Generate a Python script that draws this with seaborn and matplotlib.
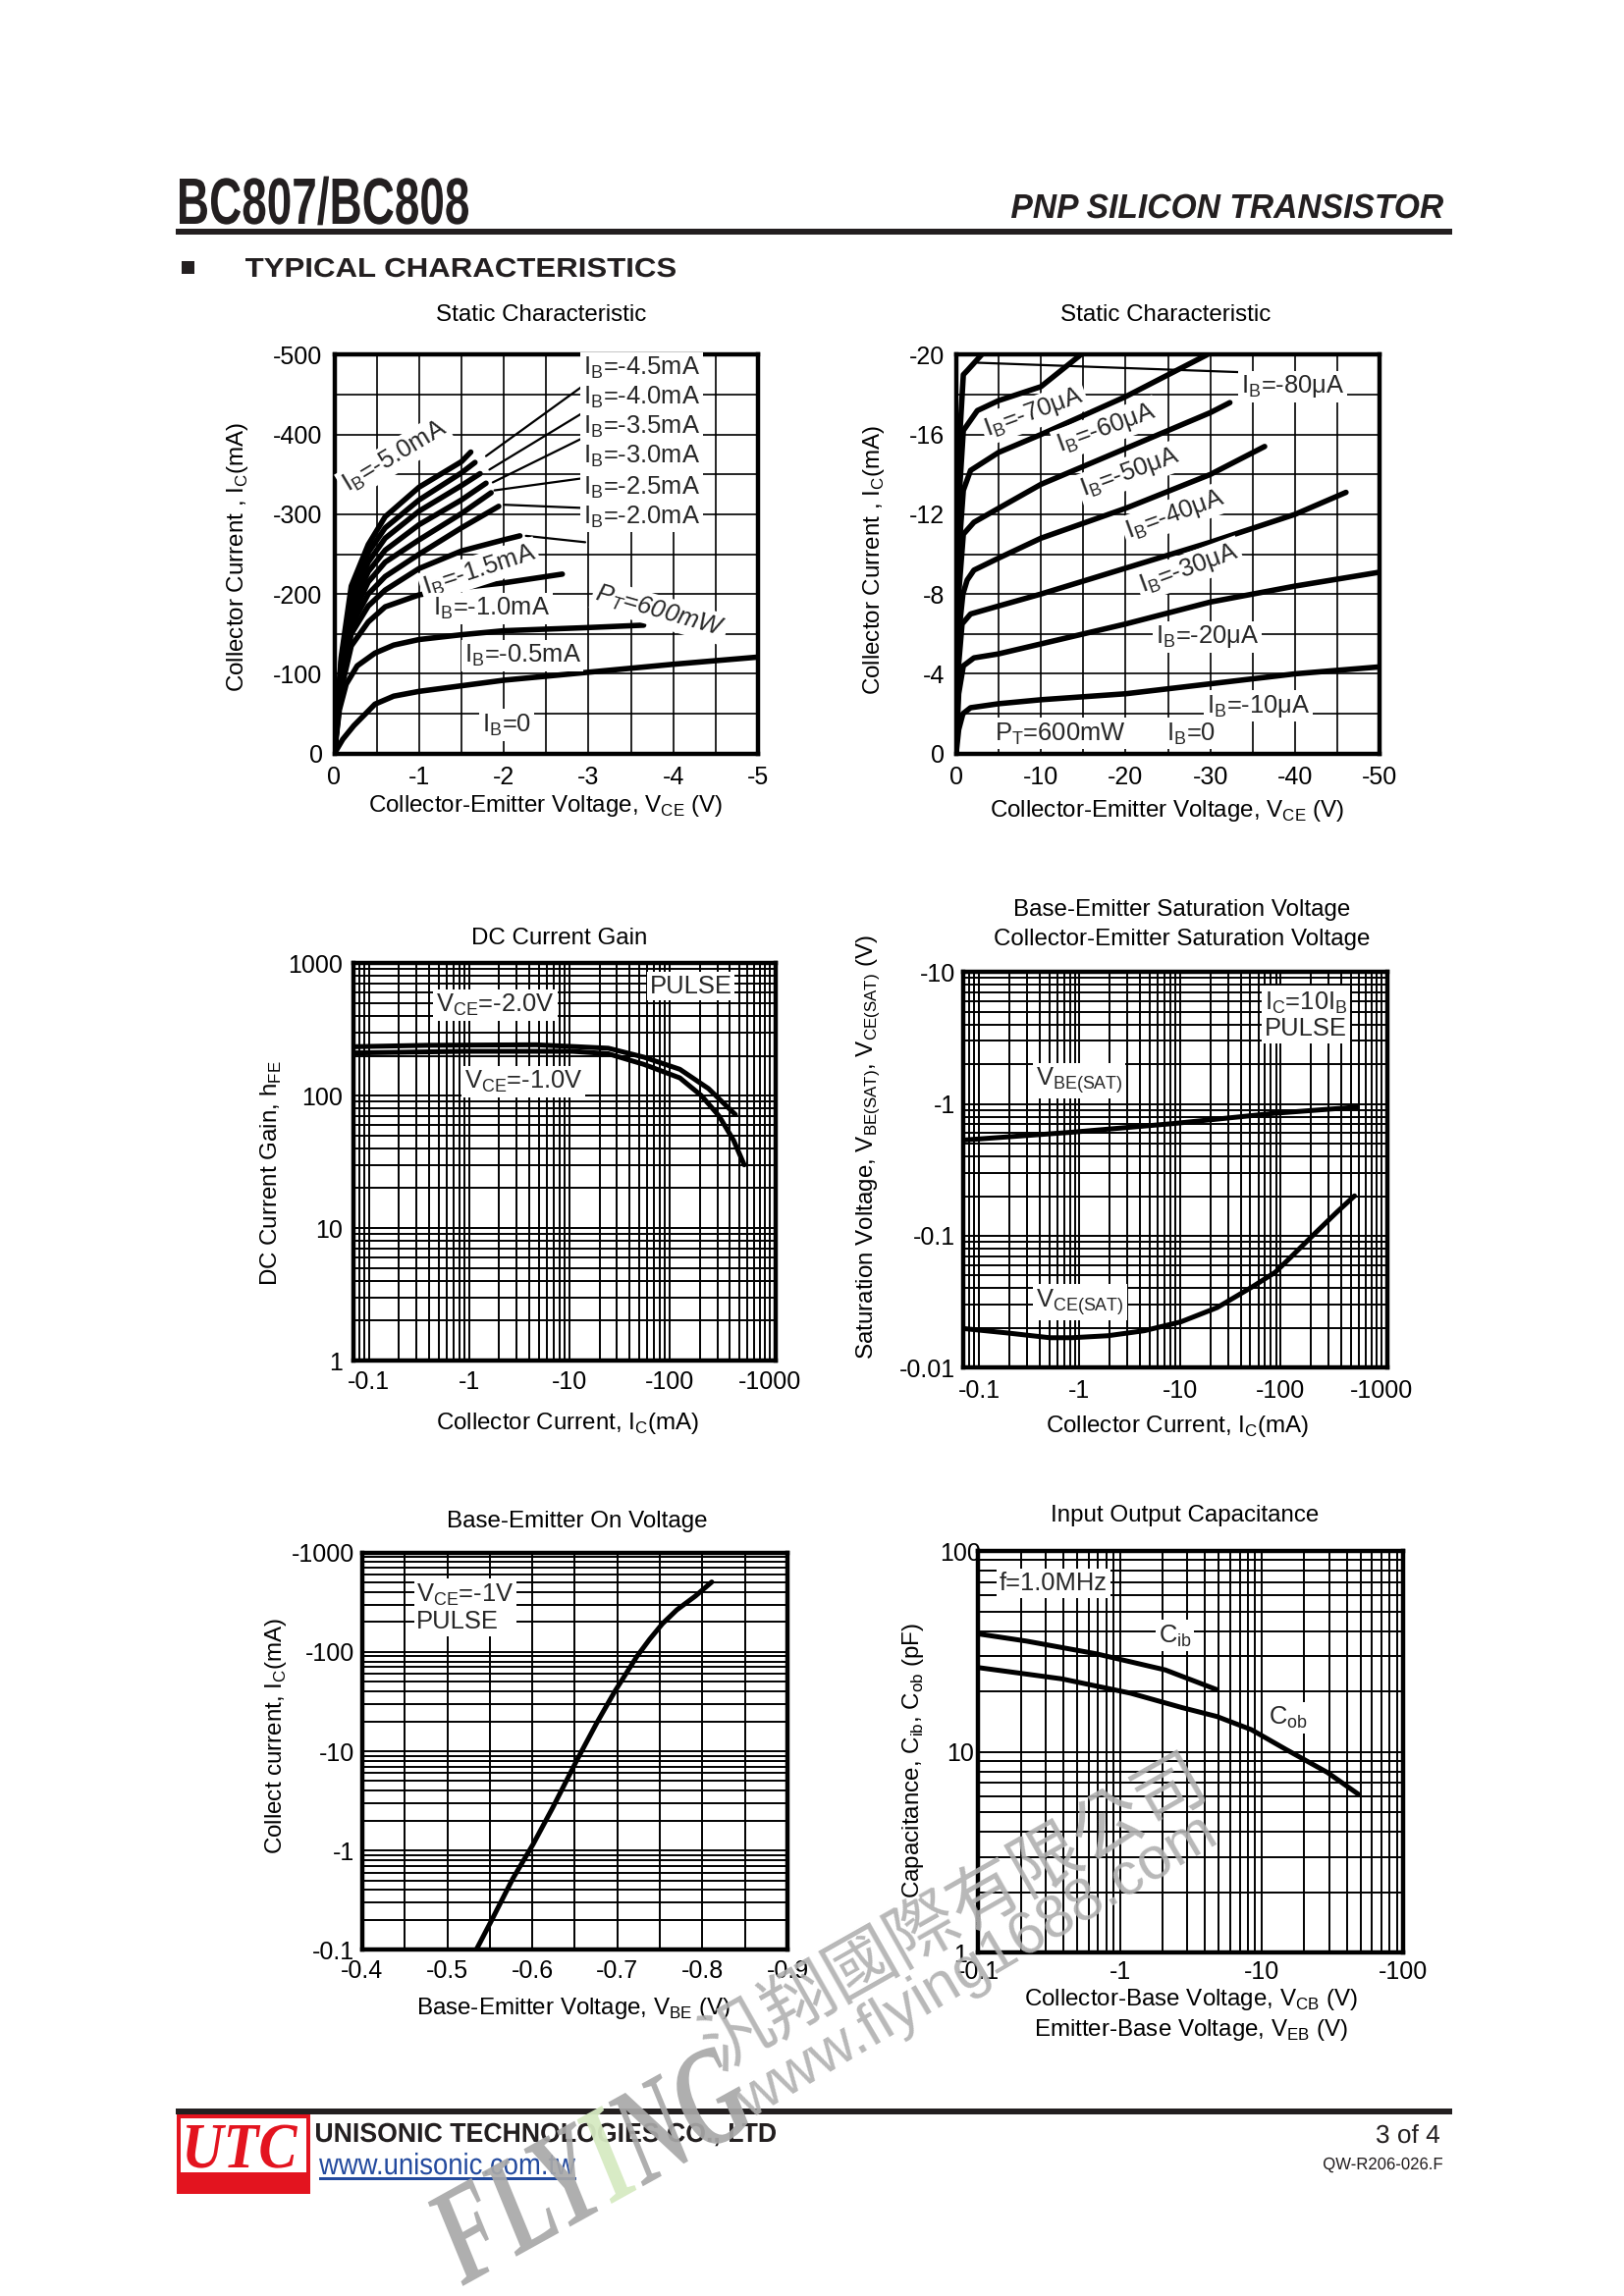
import matplotlib
matplotlib.use('Agg')
import matplotlib.pyplot as plt
import seaborn as sns
from matplotlib.ticker import MultipleLocator, FuncFormatter, LogLocator, NullFormatter
from matplotlib.patches import Rectangle, PathPatch
from matplotlib.textpath import TextPath
from matplotlib.path import Path
from matplotlib.font_manager import FontProperties
from matplotlib.transforms import Affine2D, IdentityTransform

# page size in pixels (A4 at 200 dpi)
W, H = 1654, 2339

# ---- values, stored as magnitudes (the page shows them negative) ----

# Static Characteristic, VCE 0..-5 V, IC 0..-500 mA
vce_low = [
    [0, 0.1, 0.23, 0.48, 0.7, 1.0, 1.5, 2.0, 3.0, 4.0, 5.0],
    [0, 0.06, 0.14, 0.27, 0.48, 0.7, 1.0, 1.5, 2.0, 3.0, 3.65],
    [0, 0.08, 0.2, 0.4, 0.6, 1.0, 1.5, 2.0, 2.69],
    [0, 0.08, 0.2, 0.4, 0.6, 1.0, 1.5, 2.0, 2.19],
    [0, 0.08, 0.2, 0.4, 0.6, 1.0, 1.5, 1.94],
    [0, 0.08, 0.2, 0.4, 0.6, 1.0, 1.5, 1.85],
    [0, 0.08, 0.2, 0.4, 0.6, 1.0, 1.5, 1.79],
    [0, 0.08, 0.2, 0.4, 0.6, 1.0, 1.5, 1.72],
    [0, 0.08, 0.2, 0.4, 0.6, 1.0, 1.5, 1.66],
    [0, 0.08, 0.2, 0.4, 0.6, 1.0, 1.5, 1.61],
]
ic_low = [
    [0, 18, 35, 62, 72, 78, 85, 92, 102, 112, 121],
    [0, 55, 87, 110, 126, 136, 143, 149, 154, 158, 161],
    [0, 80, 135, 165, 184, 199, 208, 214, 225],
    [0, 90, 150, 185, 205, 232, 254, 268, 273],
    [0, 95, 160, 200, 222, 250, 283, 310],
    [0, 100, 170, 215, 240, 268, 301, 327],
    [0, 105, 180, 228, 255, 287, 318, 339],
    [0, 110, 190, 240, 270, 304, 336, 351],
    [0, 115, 200, 252, 283, 318, 352, 365],
    [0, 120, 210, 262, 297, 334, 366, 378],
]
ib_low_right = ['-4.5', '-4.0', '-3.5', '-3.0', '-2.5', '-2.0']

# Static Characteristic, VCE 0..-50 V, IC 0..-20 mA
vce_high = [
    [0, 0.3, 0.8, 1.7, 5, 10, 20, 30, 40, 50],
    [0, 0.3, 0.85, 2.1, 5, 10, 20, 30, 40, 50],
    [0, 0.3, 0.7, 1.7, 5, 10, 20, 30, 40, 46],
    [0, 0.3, 0.8, 1.3, 2.1, 5, 10, 20, 30, 36.4],
    [0, 0.3, 0.85, 2.1, 5, 10, 20, 30, 32.3],
    [0, 0.3, 0.85, 1.7, 5, 10, 20, 29.6],
    [0, 0.3, 0.85, 2.5, 5, 10, 14.7],
    [0, 0.3, 0.85, 1.3, 3.0],
]
ic_high = [
    [0, 1.2, 2.0, 2.3, 2.5, 2.7, 3.0, 3.5, 4.0, 4.35],
    [0, 3.0, 4.4, 4.8, 5.0, 5.5, 6.5, 7.6, 8.4, 9.1],
    [0, 4.5, 6.5, 7.0, 7.4, 8.0, 9.3, 10.6, 12.0, 13.1],
    [0, 6.0, 8.0, 8.7, 9.2, 9.8, 10.8, 12.3, 14.0, 15.4],
    [0, 8.0, 11.0, 11.6, 12.3, 13.5, 15.3, 17.1, 17.6],
    [0, 10.0, 13.2, 14.2, 15.1, 16.0, 17.9, 20.0],
    [0, 12.5, 16.2, 17.2, 17.7, 18.4, 20.0],
    [0, 15.0, 19.0, 19.2, 20.0],
]

# DC Current Gain
ic_gain_2v = [0.07, 0.40, 4.7, 24.5, 55.7, 127, 245, 454]
hfe_2v = [234, 240, 242, 228, 195, 158, 113, 72]
ic_gain_1v = [0.07, 0.91, 10.7, 24.5, 55.7, 127, 208, 313, 436, 557]
hfe_1v = [210, 216, 216, 207, 172, 136, 100, 70, 46, 30]

# Saturation voltages
ic_vbe = [0.07, 0.835, 8.6, 88, 575]
vbe_sat = [0.532, 0.61, 0.71, 0.85, 0.946]
ic_vce = [0.0718, 0.187, 0.507, 0.835, 1.92, 4.42, 10.2, 23.4, 53.7, 88.5, 124, 221, 365, 543]
vce_sat = [0.0198, 0.0184, 0.0169, 0.0169, 0.0175, 0.0191, 0.0223, 0.0286, 0.0416,
           0.053, 0.068, 0.105, 0.152, 0.201]

# Base-Emitter On Voltage
vbe_on = [0.534, 0.551, 0.577, 0.601, 0.624, 0.652, 0.676, 0.697, 0.723, 0.738,
          0.753, 0.770, 0.792, 0.811]
ic_on = [0.1, 0.19, 0.52, 1.16, 2.7, 8.0, 19.4, 40, 90, 134, 192, 265, 366, 505]

# Input Output Capacitance
v_cib = [0.1, 0.22, 0.68, 2.09, 4.84]
cib = [38.7, 35.6, 30.8, 25.6, 20.4]
v_cob = [0.1, 0.39, 1.19, 2.76, 4.84, 8.47, 14.8, 29.1, 48.2]
cob = [26.3, 23.1, 19.6, 16.6, 15.0, 12.9, 10.3, 7.9, 6.15]

# ---- style ----
sns.set_theme(style='white')
plt.rcParams['font.family'] = ['Liberation Sans', 'DejaVu Sans']
plt.rcParams['mathtext.fontset'] = 'custom'
plt.rcParams['mathtext.rm'] = 'Liberation Sans'
plt.rcParams['axes.unicode_minus'] = False

LBL = 8.7     # axis label / title size
TCK = 9.0     # tick label size
ANN = 9.2     # in-chart labels
WHITE = dict(facecolor='white', edgecolor='none', pad=1.0)
INK = '#231f20'

fig = plt.figure(figsize=(W / 200, H / 200), dpi=200)


def box(l, t, r, b):
    return [l / W, 1 - b / H, (r - l) / W, (b - t) / H]


def ptext(x, y, s, **kw):
    kw.setdefault('ha', 'center')
    kw.setdefault('va', 'center')
    kw.setdefault('color', 'black')
    return fig.text(x / W, 1 - y / H, s, **kw)


def prect(l, t, r, b, color):
    fig.add_artist(Rectangle((l / W, 1 - b / H), (r - l) / W, (b - t) / H,
                             transform=fig.transFigure, facecolor=color, edgecolor='none'))


def add_path(path, color, alpha=1.0, z=5):
    fig.add_artist(PathPatch(path, facecolor=color, edgecolor='none', lw=0, alpha=alpha,
                             zorder=z, transform=IdentityTransform()))


def fit_text(s, left, right, top, base, color, **font):
    # squeeze/stretch the glyphs so the ink spans left..right and capitals run top..base
    prop = FontProperties(**font)
    tp = TextPath((0, 0), s, size=100, prop=prop)
    cap = TextPath((0, 0), 'H', size=100, prop=prop).get_extents().height
    ext = tp.get_extents()
    tr = Affine2D().translate(-ext.x0, 0).scale((right - left) / ext.width, (base - top) / cap)
    tr = tr.translate(left, H - base)
    add_path(tr.transform_path(tp), color)


def sub(base, s):
    return base + r'$_{\mathregular{' + s + '}}$'


neg = FuncFormatter(lambda v, p: '0' if v == 0 else '-%g' % v)
pos = FuncFormatter(lambda v, p: '%g' % v)


def style_ax(ax, pad_x=4, pad_y=4, grid_lw=0.6):
    for sp in ax.spines.values():
        sp.set_visible(True)
        sp.set_color('black')
        sp.set_linewidth(1.6)
    ax.tick_params(axis='both', which='both', length=0, labelsize=TCK, colors='black')
    ax.tick_params(axis='x', pad=pad_x)
    ax.tick_params(axis='y', pad=pad_y)
    ax.grid(True, which='both', color='black', lw=grid_lw)
    ax.set_axisbelow(True)
    ax.set_xlabel('')
    ax.set_ylabel('')


def log_axis(axis, fmt):
    axis.set_major_locator(LogLocator(base=10, numticks=12))
    axis.set_minor_locator(LogLocator(base=10, subs=range(2, 10), numticks=12))
    axis.set_major_formatter(fmt)
    axis.set_minor_formatter(NullFormatter())


def curve(ax, xs, ys, lw=1.8):
    sns.lineplot(x=xs, y=ys, ax=ax, color='black', lw=lw, sort=False, estimator=None,
                 solid_capstyle='round', solid_joinstyle='round')


# ---- header ----
fit_text('BC807/BC808', 183, 477, 182, 228, INK, family='Liberation Sans', weight='bold')
fit_text('PNP SILICON TRANSISTOR', 1030, 1470, 198, 222, INK, family='Liberation Sans',
         weight='bold', style='italic')
prect(179, 233, 1479, 239, INK)
prect(185, 266, 198, 279, INK)
fit_text('TYPICAL CHARACTERISTICS', 250, 688, 263, 282, INK, family='Liberation Sans',
         weight='bold')

# ---- 1: static characteristic (low voltage) ----
ax1 = fig.add_axes(box(340.5, 361.4, 772.1, 767.7))
for xs, ys in zip(vce_low, ic_low):
    curve(ax1, xs, ys, lw=2.0)
ax1.set_xlim(0, 5)
ax1.set_ylim(0, 500)
ax1.xaxis.set_major_locator(MultipleLocator(1))
ax1.xaxis.set_minor_locator(MultipleLocator(0.5))
ax1.yaxis.set_major_locator(MultipleLocator(100))
ax1.yaxis.set_minor_locator(MultipleLocator(50))
ax1.xaxis.set_major_formatter(neg)
ax1.yaxis.set_major_formatter(neg)
style_ax(ax1, pad_x=4.5, pad_y=4.3)

leaders1 = [((1.79, 373), (2.96, 463)), ((1.83, 356), (2.96, 429)), ((1.87, 340), (2.92, 395)),
            ((1.89, 330), (2.92, 345)), ((2.0, 312), (2.92, 308)), ((2.26, 273), (2.96, 265))]
for (x0, y0), (x1, y1) in leaders1:
    ax1.plot([x0, x1], [y0, y1], color='black', lw=0.8)
for lab, yy in zip(ib_low_right, [483, 447, 410, 373, 334, 297]):
    ax1.text(2.94, yy, sub('I', 'B') + '=' + lab + 'mA', ha='left', va='center',
             fontsize=ANN, bbox=WHITE, zorder=4)
ax1.text(0.71, 372, sub('I', 'B') + '=-5.0mA', rotation=31, ha='center', va='center',
         fontsize=ANN, bbox=WHITE, zorder=4)
ax1.text(1.71, 230, sub('I', 'B') + '=-1.5mA', rotation=18, ha='center', va='center',
         fontsize=ANN, bbox=WHITE, zorder=4)
ax1.text(1.85, 182, sub('I', 'B') + '=-1.0mA', ha='center', va='center',
         fontsize=ANN, bbox=WHITE, zorder=4)
ax1.text(3.84, 178, sub('P', 'T') + '=600mW', rotation=-16, ha='center', va='center',
         fontsize=ANN, style='italic', bbox=WHITE, zorder=4)
ax1.text(2.22, 123, sub('I', 'B') + '=-0.5mA', ha='center', va='center',
         fontsize=ANN, bbox=WHITE, zorder=4)
ax1.text(2.03, 36, sub('I', 'B') + '=0', ha='center', va='center',
         fontsize=ANN, bbox=WHITE, zorder=4)

ptext(551, 321, 'Static Characteristic', fontsize=LBL)
ptext(556, 821, 'Collector-Emitter Voltage, ' + sub('V', 'CE') + ' (V)', fontsize=LBL)
ptext(242, 567, 'Collector Current , ' + sub('I', 'C') + '(mA)', fontsize=LBL, rotation=90)

# ---- 2: static characteristic (high voltage) ----
ax2 = fig.add_axes(box(973.8, 361.4, 1405.4, 767.7))
for xs, ys in zip(vce_high, ic_high):
    curve(ax2, xs, ys, lw=2.0)
ax2.set_xlim(0, 50)
ax2.set_ylim(0, 20)
ax2.xaxis.set_major_locator(MultipleLocator(10))
ax2.xaxis.set_minor_locator(MultipleLocator(5))
ax2.yaxis.set_major_locator(MultipleLocator(4))
ax2.yaxis.set_minor_locator(MultipleLocator(2))
ax2.xaxis.set_major_formatter(neg)
ax2.yaxis.set_major_formatter(neg)
style_ax(ax2, pad_x=4.5, pad_y=4.3)
ax2.plot([2.55, 35.3], [19.6, 19.1], color='black', lw=0.8)
ax2.text(33.6, 18.4, sub('I', 'B') + '=-80μA', ha='left', va='center', fontsize=ANN,
         bbox=WHITE, zorder=4)
for lab, (xx, yy) in zip(['-70', '-60', '-50', '-40', '-30'],
                         [(9.2, 17.1), (17.7, 16.3), (20.5, 14.1), (25.8, 12.0), (27.5, 9.26)]):
    ax2.text(xx, yy, sub('I', 'B') + '=' + lab + 'μA', rotation=20, ha='center', va='center',
             fontsize=ANN, bbox=WHITE, zorder=4)
ax2.text(29.6, 5.85, sub('I', 'B') + '=-20μA', ha='center', va='center', fontsize=ANN,
         bbox=WHITE, zorder=4)
ax2.text(35.7, 2.39, sub('I', 'B') + '=-10μA', ha='center', va='center', fontsize=ANN,
         bbox=WHITE, zorder=4)
ax2.text(12.3, 1.0, sub('P', 'T') + '=600mW', ha='center', va='center', fontsize=ANN,
         bbox=WHITE, zorder=4)
ax2.text(27.7, 1.0, sub('I', 'B') + '=0', ha='center', va='center', fontsize=ANN,
         bbox=WHITE, zorder=4)

ptext(1187, 321, 'Static Characteristic', fontsize=LBL)
ptext(1189, 826, 'Collector-Emitter Voltage, ' + sub('V', 'CE') + ' (V)', fontsize=LBL)
ptext(890, 570, 'Collector Current , ' + sub('I', 'C') + '(mA)', fontsize=LBL, rotation=90)

# ---- 3: DC current gain ----
ax3 = fig.add_axes(box(359.9, 981.2, 790.1, 1386.0))
curve(ax3, ic_gain_2v, hfe_2v)
curve(ax3, ic_gain_1v, hfe_1v)
ax3.set_xscale('log')
ax3.set_yscale('log')
ax3.set_xlim(0.07, 1150)
ax3.set_ylim(1, 1000)
log_axis(ax3.xaxis, neg)
log_axis(ax3.yaxis, pos)
style_ax(ax3, pad_x=3.5, pad_y=3.8, grid_lw=0.7)
ax3.text(0.47, 482, sub('V', 'CE') + '=-2.0V', ha='left', va='center', fontsize=ANN,
         bbox=WHITE, zorder=4)
ax3.text(0.90, 128, sub('V', 'CE') + '=-1.0V', ha='left', va='center', fontsize=ANN,
         bbox=WHITE, zorder=4)
ax3.text(63, 671, 'PULSE', ha='left', va='center', fontsize=ANN, bbox=WHITE, zorder=4)

ptext(570, 956, 'DC Current Gain', fontsize=LBL)
ptext(578, 1450, 'Collector Current, ' + sub('I', 'C') + '(mA)', fontsize=LBL)
ptext(276, 1195, 'DC Current Gain, ' + sub('h', 'FE'), fontsize=LBL, rotation=90)

# ---- 4: saturation voltages ----
ax4 = fig.add_axes(box(981.2, 990.2, 1412.9, 1393.4))
curve(ax4, ic_vbe, vbe_sat)
curve(ax4, ic_vce, vce_sat)
ax4.set_xscale('log')
ax4.set_yscale('log')
ax4.set_xlim(0.07, 1150)
ax4.set_ylim(0.01, 10)
log_axis(ax4.xaxis, neg)
log_axis(ax4.yaxis, neg)
style_ax(ax4, pad_x=4.0, pad_y=2.8, grid_lw=0.7)
ax4.text(69, 4.7, sub('I', 'C') + '=10' + sub('I', 'B') + '\nPULSE', ha='left', va='center',
         fontsize=ANN, bbox=WHITE, zorder=4, linespacing=1.1)
ax4.text(0.364, 1.50, sub('V', 'BE(SAT)'), ha='left', va='center', fontsize=ANN,
         bbox=WHITE, zorder=4)
ax4.text(0.37, 0.0314, sub('V', 'CE(SAT)'), ha='left', va='center', fontsize=ANN,
         bbox=WHITE, zorder=4)

ptext(1204, 927, 'Base-Emitter Saturation Voltage', fontsize=LBL)
ptext(1204, 957, 'Collector-Emitter Saturation Voltage', fontsize=LBL)
ptext(1199, 1453, 'Collector Current, ' + sub('I', 'C') + '(mA)', fontsize=LBL)
ptext(884, 1169, 'Saturation Voltage, ' + sub('V', 'BE(SAT)') + ', ' + sub('V', 'CE(SAT)') + ' (V)',
      fontsize=LBL, rotation=90)

# ---- 5: base-emitter on voltage ----
ax5 = fig.add_axes(box(368.9, 1581.6, 802.0, 1986.4))
curve(ax5, vbe_on, ic_on)
ax5.set_yscale('log')
ax5.set_xlim(0.4, 0.9)
ax5.set_ylim(0.1, 1000)
ax5.xaxis.set_major_locator(MultipleLocator(0.1))
ax5.xaxis.set_minor_locator(MultipleLocator(0.05))
ax5.xaxis.set_major_formatter(FuncFormatter(lambda v, p: '-%.1f' % v))
log_axis(ax5.yaxis, neg)
style_ax(ax5, pad_x=3.5, pad_y=2.8, grid_lw=0.7)
ax5.text(0.464, 276, sub('V', 'CE') + '=-1V\nPULSE', ha='left', va='center', fontsize=ANN,
         bbox=WHITE, zorder=4, linespacing=1.1)

ptext(588, 1550, 'Base-Emitter On Voltage', fontsize=LBL)
ptext(584, 2046, 'Base-Emitter Voltage, ' + sub('V', 'BE') + ' (V)', fontsize=LBL)
ptext(281, 1768, 'Collect current, ' + sub('I', 'C') + '(mA)', fontsize=LBL, rotation=90)

# ---- 6: input / output capacitance ----
ax6 = fig.add_axes(box(996.2, 1580.1, 1429.3, 1989.3))
curve(ax6, v_cib, cib)
curve(ax6, v_cob, cob)
ax6.set_xscale('log')
ax6.set_yscale('log')
ax6.set_xlim(0.1, 100)
ax6.set_ylim(1, 100)
log_axis(ax6.xaxis, neg)
log_axis(ax6.yaxis, pos)
style_ax(ax6, pad_x=2.8, pad_y=6.5, grid_lw=0.7)
for t in ax6.get_yticklabels():
    t.set_horizontalalignment('center')
ax6.text(0.1416, 69, 'f=1.0MHz', ha='left', va='center', fontsize=ANN, bbox=WHITE, zorder=4)
ax6.text(2.44, 37.9, sub('C', 'ib'), ha='center', va='center', fontsize=ANN, bbox=WHITE, zorder=4)
ax6.text(15.5, 14.8, sub('C', 'ob'), ha='center', va='center', fontsize=ANN, bbox=WHITE, zorder=4)

ptext(1207, 1544, 'Input Output Capacitance', fontsize=LBL)
ptext(1213, 2037, 'Collector-Base Voltage, ' + sub('V', 'CB') + ' (V)', fontsize=LBL)
ptext(1213, 2068, 'Emitter-Base Voltage, ' + sub('V', 'EB') + ' (V)', fontsize=LBL)
ptext(930, 1794, 'Capacitance, ' + sub('C', 'ib') + ', ' + sub('C', 'ob') + ' (pF)',
      fontsize=LBL, rotation=90)

# ---- footer ----
prect(179, 2148, 1479, 2154, INK)
prect(180, 2154, 316, 2235, '#e3141f')
prect(184, 2158, 312, 2213, 'white')
fit_text('UTC', 190, 303, 2165, 2208, '#e3141f', family='Liberation Serif', weight='bold',
         style='italic')
fit_text('UNISONIC TECHNOLOGIES CO., LTD', 322, 790, 2163, 2182, INK,
         family='Liberation Sans', weight='bold')
fit_text('www.unisonic.com.tw', 325, 586, 2194, 2215, '#234a9e', family='Liberation Sans')
prect(325, 2218, 587, 2221, '#234a9e')
fit_text('3 of 4', 1402, 1466, 2165, 2183, INK, family='Liberation Sans')
fit_text('QW-R206-026.F', 1348, 1469, 2198, 2210, INK, family='Liberation Sans')

# ---- watermark ----
ptext(972, 1950, '汎翔國際有限公司', fontsize=26, rotation=29.5, color='#b0b0b0', alpha=0.9,
      family=['Noto Sans CJK TC', 'DejaVu Sans'], zorder=10)
ptext(995, 2005, 'www.flying1688.com', fontsize=22, rotation=30.5, color='#b0b0b0', alpha=0.9,
      zorder=10)

# "FLYING" with a green I, laid out as one glyph run, then squeezed and turned
wm_prop = FontProperties(family='Liberation Serif', weight='bold', style='italic')
p_all = TextPath((0, 0), 'FLYING', size=100, prop=wm_prop)
n_fly = len(TextPath((0, 0), 'FLY', size=100, prop=wm_prop).vertices)
n_flyi = len(TextPath((0, 0), 'FLYI', size=100, prop=wm_prop).vertices)
cap_wm = TextPath((0, 0), 'H', size=100, prop=wm_prop).get_extents().height
ext_wm = p_all.get_extents()
wm_tr = (Affine2D()
         .translate(-(ext_wm.x0 + ext_wm.width / 2), -cap_wm / 2)
         .scale(345 / ext_wm.width, 92 / cap_wm)
         .rotate_deg(29)
         .translate(600, H - 2205))
v, c = p_all.vertices, p_all.codes
gray_part = Path(list(v[:n_fly]) + list(v[n_flyi:]), list(c[:n_fly]) + list(c[n_flyi:]))
green_part = Path(v[n_fly:n_flyi], c[n_fly:n_flyi])
add_path(wm_tr.transform_path(gray_part), '#a8a8a8', alpha=0.92, z=10)
add_path(wm_tr.transform_path(green_part), '#d6eac2', alpha=0.95, z=10)

fig.savefig('out.png', dpi=200, facecolor='white')
